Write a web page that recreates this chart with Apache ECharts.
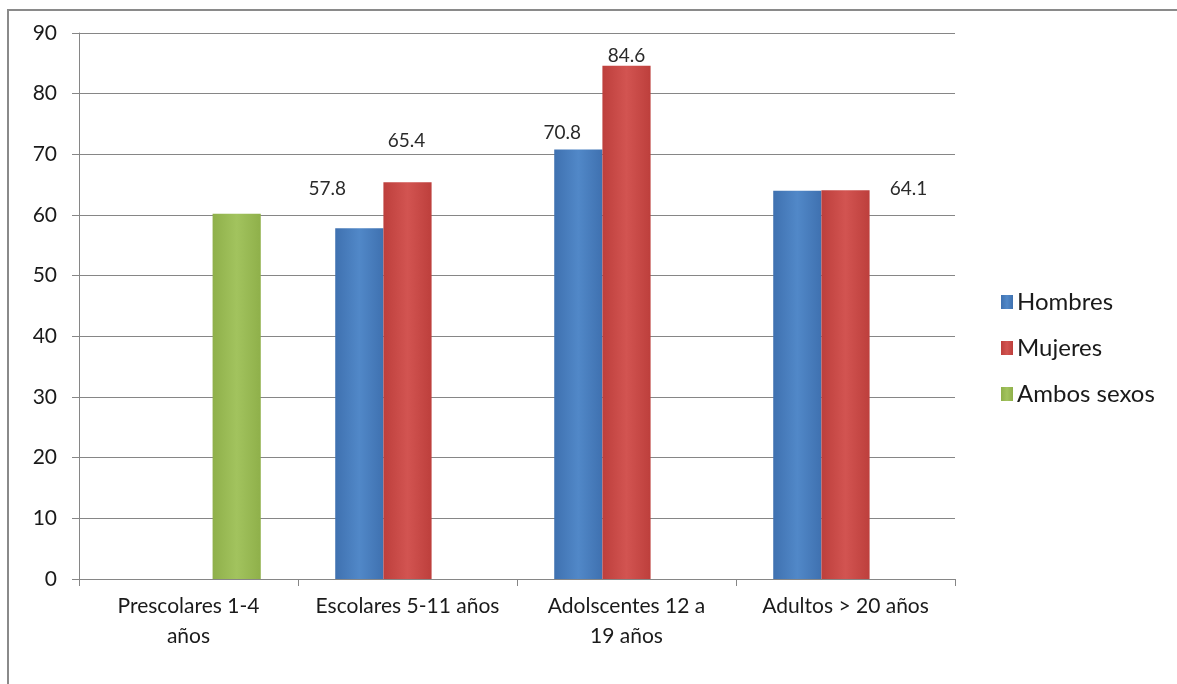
<!DOCTYPE html>
<html>
<head>
<meta charset="utf-8">
<script src="https://cdn.jsdelivr.net/npm/echarts@6/dist/echarts.min.js"></script>
<style>
  html, body { margin: 0; padding: 0; background: #fff; }
  #main { width: 1177px; height: 684px; }
</style>
</head>
<body>
<div id="main"></div>
<script>
// datos
var categorias = ['Prescolares 1-4\naños', 'Escolares 5-11 años', 'Adolscentes 12 a\n19 años', 'Adultos > 20 años'];
var hombres = [null, 57.8, 70.8, 64.0];
var mujeres = [null, 65.4, 84.6, 64.1];
var ambos = [60.2, null, null, null];
var ticksY = [0, 10, 20, 30, 40, 50, 60, 70, 80, 90];

// etiquetas visibles y donde van (indice -> desplazamiento)
var etiqHombres = { 1: [-32, -25], 2: [-16, -2] };
var etiqMujeres = { 1: [-1, -27], 2: [0, 5], 3: [63, 13] };

var fuente = 'Lato, "Open Sans", sans-serif';

function grad(c1, c2) {
    return new echarts.graphic.LinearGradient(0, 0, 1, 0, [
        { offset: 0, color: c1 },
        { offset: 0.5, color: c2 },
        { offset: 1, color: c1 }
    ]);
}

function datos(valores, etiq) {
    return valores.map(function (v, i) {
        if (v === null) return '-';
        var d = { value: v };
        if (etiq[i]) {
            d.label = { show: true, position: 'top', offset: etiq[i] };
        }
        return d;
    });
}

var etiquetaBase = {
    show: false,
    color: '#2a2a2a',
    fontFamily: fuente,
    fontSize: 19,
    formatter: function (p) { return p.value.toFixed(1); }
};

var myChart = echarts.init(document.getElementById('main'));
myChart.setOption({
    animation: false,
    textStyle: { fontFamily: fuente },
    graphic: [{
        type: 'rect',
        shape: { x: 8, y: 10, width: 1300, height: 800 },
        style: { fill: 'none', stroke: '#8a8a8a', lineWidth: 2 },
        silent: true
    }],
    grid: { left: 79, right: 222, top: 33, bottom: 105 },
    legend: {
        orient: 'vertical',
        left: 996,
        top: 285,
        itemWidth: 12,
        itemHeight: 14,
        itemGap: 22,
        icon: 'rect',
        textStyle: { fontSize: 24, color: '#1a1a1a', fontFamily: fuente, padding: [0, 0, 0, -1] },
        data: ['Hombres', 'Mujeres', 'Ambos sexos']
    },
    xAxis: {
        type: 'category',
        data: categorias,
        axisLine: { lineStyle: { color: '#868686', width: 1 } },
        axisTick: { show: true, length: 7, lineStyle: { color: '#868686' } },
        axisLabel: { color: '#1a1a1a', fontSize: 21, lineHeight: 30, margin: 12, interval: 0 }
    },
    yAxis: {
        type: 'value',
        min: ticksY[0],
        max: ticksY[ticksY.length - 1],
        interval: ticksY[1] - ticksY[0],
        axisLine: { show: true, lineStyle: { color: '#868686' } },
        axisTick: { show: true, length: 7, lineStyle: { color: '#868686' } },
        axisLabel: { color: '#1a1a1a', fontSize: 21, margin: 22 },
        splitLine: { lineStyle: { color: '#868686', width: 1 } }
    },
    series: [{
        name: 'Hombres',
        type: 'bar',
        barGap: '0%',
        barCategoryGap: '34%',
        itemStyle: { color: grad('#3f71b0', '#5188c8') },
        label: etiquetaBase,
        data: datos(hombres, etiqHombres)
    }, {
        name: 'Mujeres',
        type: 'bar',
        itemStyle: { color: grad('#bd3f3c', '#d25451') },
        label: etiquetaBase,
        data: datos(mujeres, etiqMujeres)
    }, {
        name: 'Ambos sexos',
        type: 'bar',
        itemStyle: { color: grad('#8fb04a', '#a2c35e') },
        label: etiquetaBase,
        data: datos(ambos, {})
    }]
});
</script>
</body>
</html>
